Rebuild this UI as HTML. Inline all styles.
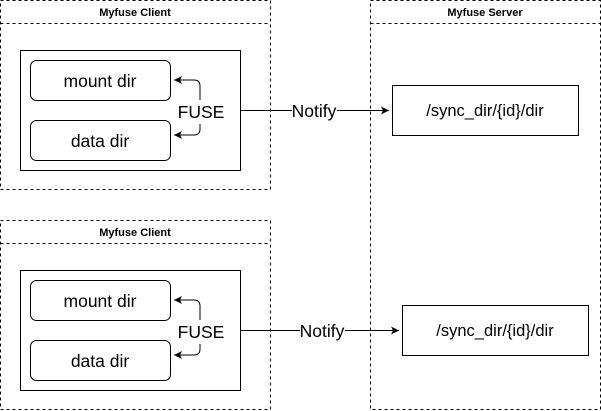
<!DOCTYPE html>
<html><head><meta charset="utf-8"><style>
html,body{margin:0;padding:0;background:#fff;width:601px;height:411px;overflow:hidden}
svg text{font-family:"Liberation Sans",Arial,sans-serif}
</style></head><body>
<svg width="601" height="411" viewBox="0 0 601 411" xmlns="http://www.w3.org/2000/svg">
<defs><marker id="a" markerWidth="10" markerHeight="10" refX="8" refY="5" orient="auto" markerUnits="userSpaceOnUse"><path d="M0,1 L8,5 L0,9 L2,5 Z" fill="#000"/></marker></defs>
<g fill="none" stroke="#000" stroke-width="1" stroke-dasharray="3,3">
<rect x="0.5" y="0.5" width="270" height="189"/><line x1="0.5" y1="23.5" x2="270.5" y2="23.5"/>
<rect x="0.5" y="220.5" width="270" height="189"/><line x1="0.5" y1="243.5" x2="270.5" y2="243.5"/>
<rect x="370.5" y="0.5" width="230" height="409"/><line x1="370.5" y1="23.5" x2="600.5" y2="23.5"/>
</g>
<g font-size="11" font-weight="bold" text-anchor="middle">
<text x="135" y="16">Myfuse Client</text>
<text x="135" y="236">Myfuse Client</text>
<text x="485" y="16">Myfuse Server</text>
</g>
<g fill="#fff" stroke="#000">
<rect x="20.5" y="50.5" width="220" height="120"/>
<rect x="30.5" y="60.5" width="140" height="40" rx="6"/>
<rect x="30.5" y="120.5" width="140" height="40" rx="6"/>
<rect x="20.5" y="270.5" width="220" height="120"/>
<rect x="30.5" y="280.5" width="140" height="40" rx="6"/>
<rect x="30.5" y="340.5" width="140" height="40" rx="6"/>
<rect x="392.5" y="85.5" width="186" height="50"/>
<rect x="402.5" y="305.5" width="186" height="50"/>
</g>
<g fill="none" stroke="#000">
<path d="M200,100 V86 Q200,80 194,80 H174" marker-end="url(#a)"/>
<path d="M200,124 V129 Q200,135 194,135 H174" marker-end="url(#a)"/>
<path d="M200,320 V306 Q200,300 194,300 H174" marker-end="url(#a)"/>
<path d="M200,344 V349 Q200,355 194,355 H174" marker-end="url(#a)"/>
<line x1="240" y1="110.5" x2="292" y2="110.5"/>
<line x1="337" y1="110.5" x2="389" y2="110.5" marker-end="url(#a)"/>
<line x1="240" y1="330.5" x2="300" y2="330.5"/>
<line x1="345" y1="330.5" x2="399" y2="330.5" marker-end="url(#a)"/>
</g>
<g font-size="17.5" text-anchor="middle">
<text x="100" y="87">mount dir</text>
<text x="100" y="147">data dir</text>
<text x="100" y="307">mount dir</text>
<text x="100" y="367">data dir</text>
<text x="201" y="118" style="paint-order:stroke" stroke="#fff" stroke-width="4">FUSE</text>
<text x="201" y="338" style="paint-order:stroke" stroke="#fff" stroke-width="4">FUSE</text>
<text x="314" y="117">Notify</text>
<text x="322" y="337">Notify</text>
<text x="485" y="116" font-size="16.5">/sync_dir/{id}/dir</text>
<text x="495" y="336" font-size="16.5">/sync_dir/{id}/dir</text>
</g>
</svg>
</body></html>
